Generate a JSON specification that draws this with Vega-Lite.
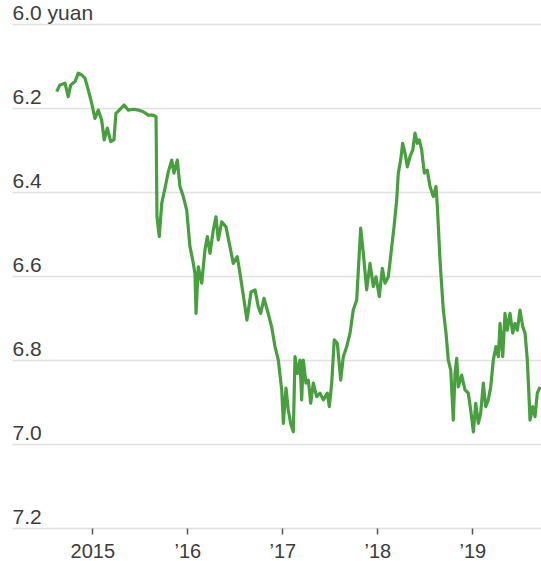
{
  "$schema": "https://vega.github.io/schema/vega-lite/v6.json",
  "width": 529,
  "height": 504,
  "autosize": {"type": "none"},
  "padding": {"left": 12, "top": 24, "right": 0, "bottom": 33},
  "background": "white",
  "config": {"view": {"stroke": null}, "font": "Liberation Sans"},
  "data": {"values": [
    {"t": 2014.625, "v": 6.161}, {"t": 2014.660, "v": 6.145}, {"t": 2014.713, "v": 6.141}, {"t": 2014.747, "v": 6.173},
    {"t": 2014.773, "v": 6.145}, {"t": 2014.818, "v": 6.137}, {"t": 2014.853, "v": 6.117}, {"t": 2014.888, "v": 6.121},
    {"t": 2014.923, "v": 6.129}, {"t": 2014.958, "v": 6.157}, {"t": 2014.994, "v": 6.189}, {"t": 2015.028, "v": 6.225},
    {"t": 2015.063, "v": 6.205}, {"t": 2015.099, "v": 6.229}, {"t": 2015.126, "v": 6.276}, {"t": 2015.158, "v": 6.248},
    {"t": 2015.194, "v": 6.280}, {"t": 2015.228, "v": 6.276}, {"t": 2015.249, "v": 6.213}, {"t": 2015.292, "v": 6.203},
    {"t": 2015.334, "v": 6.193}, {"t": 2015.379, "v": 6.205}, {"t": 2015.432, "v": 6.203}, {"t": 2015.484, "v": 6.205},
    {"t": 2015.537, "v": 6.209}, {"t": 2015.589, "v": 6.217}, {"t": 2015.642, "v": 6.217}, {"t": 2015.671, "v": 6.221},
    {"t": 2015.681, "v": 6.459}, {"t": 2015.705, "v": 6.506}, {"t": 2015.731, "v": 6.427}, {"t": 2015.765, "v": 6.391},
    {"t": 2015.800, "v": 6.352}, {"t": 2015.836, "v": 6.324}, {"t": 2015.860, "v": 6.355}, {"t": 2015.895, "v": 6.324},
    {"t": 2015.923, "v": 6.387}, {"t": 2015.958, "v": 6.411}, {"t": 2015.994, "v": 6.443}, {"t": 2016.028, "v": 6.530},
    {"t": 2016.057, "v": 6.562}, {"t": 2016.081, "v": 6.594}, {"t": 2016.092, "v": 6.689}, {"t": 2016.116, "v": 6.578},
    {"t": 2016.152, "v": 6.617}, {"t": 2016.186, "v": 6.538}, {"t": 2016.211, "v": 6.506}, {"t": 2016.239, "v": 6.546},
    {"t": 2016.274, "v": 6.490}, {"t": 2016.302, "v": 6.459}, {"t": 2016.326, "v": 6.514}, {"t": 2016.362, "v": 6.471},
    {"t": 2016.407, "v": 6.483}, {"t": 2016.449, "v": 6.530}, {"t": 2016.484, "v": 6.570}, {"t": 2016.526, "v": 6.554},
    {"t": 2016.555, "v": 6.594}, {"t": 2016.589, "v": 6.645}, {"t": 2016.628, "v": 6.705}, {"t": 2016.671, "v": 6.638},
    {"t": 2016.713, "v": 6.633}, {"t": 2016.747, "v": 6.673}, {"t": 2016.773, "v": 6.689}, {"t": 2016.807, "v": 6.653},
    {"t": 2016.842, "v": 6.681}, {"t": 2016.888, "v": 6.721}, {"t": 2016.923, "v": 6.768}, {"t": 2016.958, "v": 6.800},
    {"t": 2016.994, "v": 6.871}, {"t": 2017.011, "v": 6.951}, {"t": 2017.039, "v": 6.867}, {"t": 2017.063, "v": 6.919},
    {"t": 2017.088, "v": 6.951}, {"t": 2017.116, "v": 6.971}, {"t": 2017.134, "v": 6.792}, {"t": 2017.158, "v": 6.832},
    {"t": 2017.186, "v": 6.800}, {"t": 2017.204, "v": 6.895}, {"t": 2017.221, "v": 6.800}, {"t": 2017.249, "v": 6.855},
    {"t": 2017.274, "v": 6.848}, {"t": 2017.299, "v": 6.903}, {"t": 2017.326, "v": 6.855}, {"t": 2017.362, "v": 6.887},
    {"t": 2017.397, "v": 6.879}, {"t": 2017.432, "v": 6.895}, {"t": 2017.474, "v": 6.879}, {"t": 2017.495, "v": 6.911},
    {"t": 2017.520, "v": 6.855}, {"t": 2017.547, "v": 6.752}, {"t": 2017.579, "v": 6.760}, {"t": 2017.615, "v": 6.848},
    {"t": 2017.642, "v": 6.792}, {"t": 2017.678, "v": 6.768}, {"t": 2017.713, "v": 6.736}, {"t": 2017.747, "v": 6.681},
    {"t": 2017.783, "v": 6.657}, {"t": 2017.825, "v": 6.486}, {"t": 2017.853, "v": 6.546}, {"t": 2017.888, "v": 6.633},
    {"t": 2017.923, "v": 6.570}, {"t": 2017.958, "v": 6.625}, {"t": 2017.986, "v": 6.602}, {"t": 2018.021, "v": 6.649},
    {"t": 2018.053, "v": 6.582}, {"t": 2018.081, "v": 6.617}, {"t": 2018.116, "v": 6.602}, {"t": 2018.152, "v": 6.530},
    {"t": 2018.176, "v": 6.483}, {"t": 2018.204, "v": 6.419}, {"t": 2018.221, "v": 6.355}, {"t": 2018.246, "v": 6.324},
    {"t": 2018.267, "v": 6.284}, {"t": 2018.292, "v": 6.308}, {"t": 2018.316, "v": 6.340}, {"t": 2018.344, "v": 6.316},
    {"t": 2018.373, "v": 6.300}, {"t": 2018.397, "v": 6.260}, {"t": 2018.421, "v": 6.284}, {"t": 2018.442, "v": 6.276},
    {"t": 2018.467, "v": 6.300}, {"t": 2018.495, "v": 6.355}, {"t": 2018.526, "v": 6.348}, {"t": 2018.555, "v": 6.387},
    {"t": 2018.589, "v": 6.411}, {"t": 2018.618, "v": 6.387}, {"t": 2018.632, "v": 6.435}, {"t": 2018.660, "v": 6.562},
    {"t": 2018.678, "v": 6.625}, {"t": 2018.695, "v": 6.681}, {"t": 2018.723, "v": 6.736}, {"t": 2018.747, "v": 6.800},
    {"t": 2018.773, "v": 6.824}, {"t": 2018.800, "v": 6.943}, {"t": 2018.818, "v": 6.832}, {"t": 2018.836, "v": 6.796},
    {"t": 2018.853, "v": 6.864}, {"t": 2018.888, "v": 6.836}, {"t": 2018.923, "v": 6.871}, {"t": 2018.958, "v": 6.879},
    {"t": 2018.983, "v": 6.919}, {"t": 2019.011, "v": 6.971}, {"t": 2019.036, "v": 6.903}, {"t": 2019.063, "v": 6.951},
    {"t": 2019.088, "v": 6.927}, {"t": 2019.116, "v": 6.855}, {"t": 2019.141, "v": 6.911}, {"t": 2019.168, "v": 6.895},
    {"t": 2019.194, "v": 6.864}, {"t": 2019.221, "v": 6.800}, {"t": 2019.249, "v": 6.768}, {"t": 2019.274, "v": 6.792},
    {"t": 2019.292, "v": 6.713}, {"t": 2019.320, "v": 6.792}, {"t": 2019.344, "v": 6.689}, {"t": 2019.368, "v": 6.729},
    {"t": 2019.397, "v": 6.689}, {"t": 2019.425, "v": 6.736}, {"t": 2019.449, "v": 6.713}, {"t": 2019.474, "v": 6.729},
    {"t": 2019.502, "v": 6.681}, {"t": 2019.531, "v": 6.721}, {"t": 2019.555, "v": 6.736}, {"t": 2019.579, "v": 6.800},
    {"t": 2019.600, "v": 6.903}, {"t": 2019.607, "v": 6.943}, {"t": 2019.636, "v": 6.911}, {"t": 2019.660, "v": 6.935},
    {"t": 2019.684, "v": 6.879}, {"t": 2019.713, "v": 6.864}
  ]},
  "mark": {"type": "line", "color": "#47a03d", "strokeWidth": 3.2, "strokeJoin": "round", "clip": true},
  "encoding": {
    "x": {
      "field": "t", "type": "quantitative",
      "scale": {"domain": [2014.155, 2019.723], "nice": false, "zero": false},
      "axis": {
        "title": null, "values": [2015, 2016, 2017, 2018, 2019],
        "labelExpr": "datum.value == 2015 ? '2015' : '’' + substring(toString(datum.value), 2, 4)",
        "domain": false, "grid": false,
        "tickSize": 6, "tickColor": "#555555", "tickWidth": 1.5,
        "labelFontSize": 20, "labelColor": "#3c3c3c", "labelFont": "Liberation Sans",
        "labelPadding": 7, "labelFlush": false, "labelOverlap": false, "labelBound": false
      }
    },
    "y": {
      "field": "v", "type": "quantitative",
      "scale": {"domain": [6.0, 7.2], "reverse": true, "nice": false, "zero": false},
      "axis": {
        "title": null, "values": [6.0, 6.2, 6.4, 6.6, 6.8, 7.0, 7.2],
        "labelExpr": "datum.value == 6 ? '6.0 yuan' : format(datum.value, '.1f')",
        "domain": false, "ticks": false, "tickSize": 0,
        "grid": true, "gridColor": "#e0e0e0", "gridWidth": 1.5,
        "labelAlign": "left", "labelBaseline": "alphabetic", "labelPadding": 0, "labelOffset": -5,
        "labelFontSize": 21, "labelColor": "#3c3c3c", "labelFont": "Liberation Sans",
        "labelOverlap": false, "labelBound": false, "labelFlush": false
      }
    }
  }
}
